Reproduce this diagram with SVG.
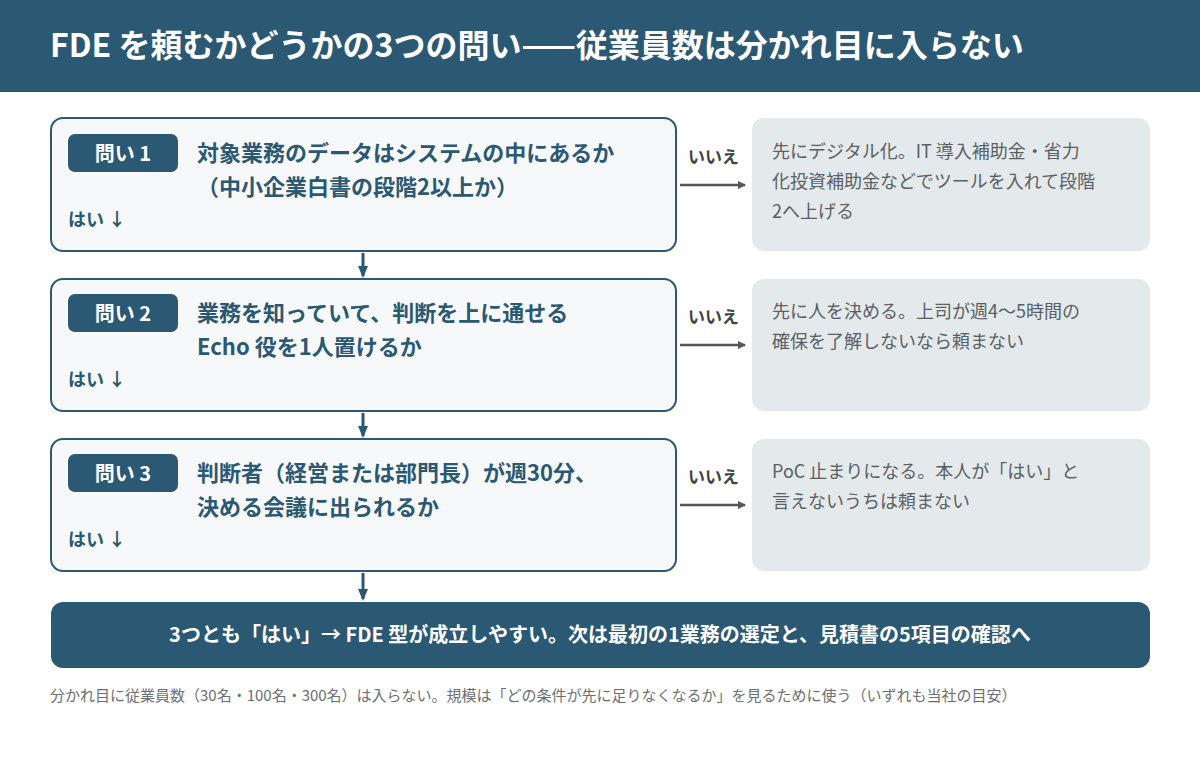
<svg xmlns="http://www.w3.org/2000/svg" width="1200" height="760" viewBox="0 0 1200 760">
<style>
text{font-family:"Noto Sans CJK JP","Noto Sans",sans-serif}
.q{fill:#f6f8fa;stroke:#2b5872;stroke-width:2}
.badge{fill:#2b5872}
.bt{fill:#fff;font-size:20px;font-weight:bold}
.qt{fill:#2b5872;font-size:22px;font-weight:bold}
.yes{fill:#2b5872;font-size:18px;font-weight:bold}
.no{fill:#444;font-size:17px;font-weight:bold}
.r{fill:#e4e9ec}
.rt{fill:#5a5f63;font-size:18px}
.c{stroke:#555;stroke-width:2.5;fill:none}
.d{stroke:#2b5872;stroke-width:3;fill:none}
</style>
<defs>
<marker id="ag" markerWidth="8" markerHeight="8" refX="7" refY="4" orient="auto" markerUnits="userSpaceOnUse"><path d="M0,0L8,4L0,8z" fill="#555"/></marker>
<marker id="ab" markerWidth="12" markerHeight="10" refX="10" refY="5" orient="auto" markerUnits="userSpaceOnUse"><path d="M0,0L12,5L0,10z" fill="#2b5872"/></marker>
</defs>
<rect width="1200" height="760" fill="#fff"/>
<g id="header"><rect width="1200" height="92" fill="#2b5872"/>
<text x="50" y="57" fill="#fff" font-size="32" font-weight="bold">FDE を頼むかどうかの3つの問い——従業員数は分かれ目に入らない</text></g>
<g id="q1"><rect class="q" x="51" y="118" width="625" height="133" rx="12"/>
<rect class="badge" x="68" y="134" width="110" height="38" rx="7"/><text class="bt" x="123" y="161" text-anchor="middle">問い 1</text>
<text class="qt" x="197" y="161">対象業務のデータはシステムの中にあるか</text>
<text class="qt" x="197" y="195">（中小企業白書の段階2以上か）</text>
<text class="yes" x="68" y="226">はい ↓</text></g>
<g id="q2"><rect class="q" x="51" y="279" width="625" height="132" rx="12"/>
<rect class="badge" x="68" y="294" width="110" height="38" rx="7"/><text class="bt" x="123" y="321" text-anchor="middle">問い 2</text>
<text class="qt" x="197" y="321">業務を知っていて、判断を上に通せる</text>
<text class="qt" x="197" y="355">Echo 役を1人置けるか</text>
<text class="yes" x="68" y="386">はい ↓</text></g>
<g id="q3"><rect class="q" x="51" y="439" width="625" height="132" rx="12"/>
<rect class="badge" x="68" y="454" width="110" height="38" rx="7"/><text class="bt" x="123" y="481" text-anchor="middle">問い 3</text>
<text class="qt" x="197" y="481">判断者（経営または部門長）が週30分、</text>
<text class="qt" x="197" y="515">決める会議に出られるか</text>
<text class="yes" x="68" y="546">はい ↓</text></g>
<g id="r1"><rect class="r" x="752" y="118" width="398" height="133" rx="12"/>
<text class="rt" x="772" y="158">先にデジタル化。IT 導入補助金・省力</text>
<text class="rt" x="772" y="188">化投資補助金などでツールを入れて段階</text>
<text class="rt" x="772" y="218">2へ上げる</text></g>
<g id="r2"><rect class="r" x="752" y="279" width="398" height="132" rx="12"/>
<text class="rt" x="772" y="318">先に人を決める。上司が週4〜5時間の</text>
<text class="rt" x="772" y="348">確保を了解しないなら頼まない</text></g>
<g id="r3"><rect class="r" x="752" y="439" width="398" height="132" rx="12"/>
<text class="rt" x="772" y="478">PoC 止まりになる。本人が「はい」と</text>
<text class="rt" x="772" y="508">言えないうちは頼まない</text></g>
<g id="result"><rect x="51" y="602" width="1099" height="66" rx="12" fill="#2b5872"/>
<text x="600" y="642" fill="#fff" font-size="20" font-weight="bold" text-anchor="middle">3つとも「はい」→ FDE 型が成立しやすい。次は最初の1業務の選定と、見積書の5項目の確認へ</text></g>
<g id="connectors">
<text class="no" x="688" y="163">いいえ</text><text class="no" x="688" y="323">いいえ</text><text class="no" x="688" y="483">いいえ</text>
<path class="c" d="M680,185H745" marker-end="url(#ag)"/>
<path class="c" d="M680,345H745" marker-end="url(#ag)"/>
<path class="c" d="M680,505H745" marker-end="url(#ag)"/>
<path class="d" d="M363,253V276" marker-end="url(#ab)"/>
<path class="d" d="M363,413V436" marker-end="url(#ab)"/>
<path class="d" d="M363,573V599" marker-end="url(#ab)"/>
</g>
<text x="50" y="701" fill="#6b6f73" font-size="15">分かれ目に従業員数（30名・100名・300名）は入らない。規模は「どの条件が先に足りなくなるか」を見るために使う（いずれも当社の目安）</text>
</svg>
